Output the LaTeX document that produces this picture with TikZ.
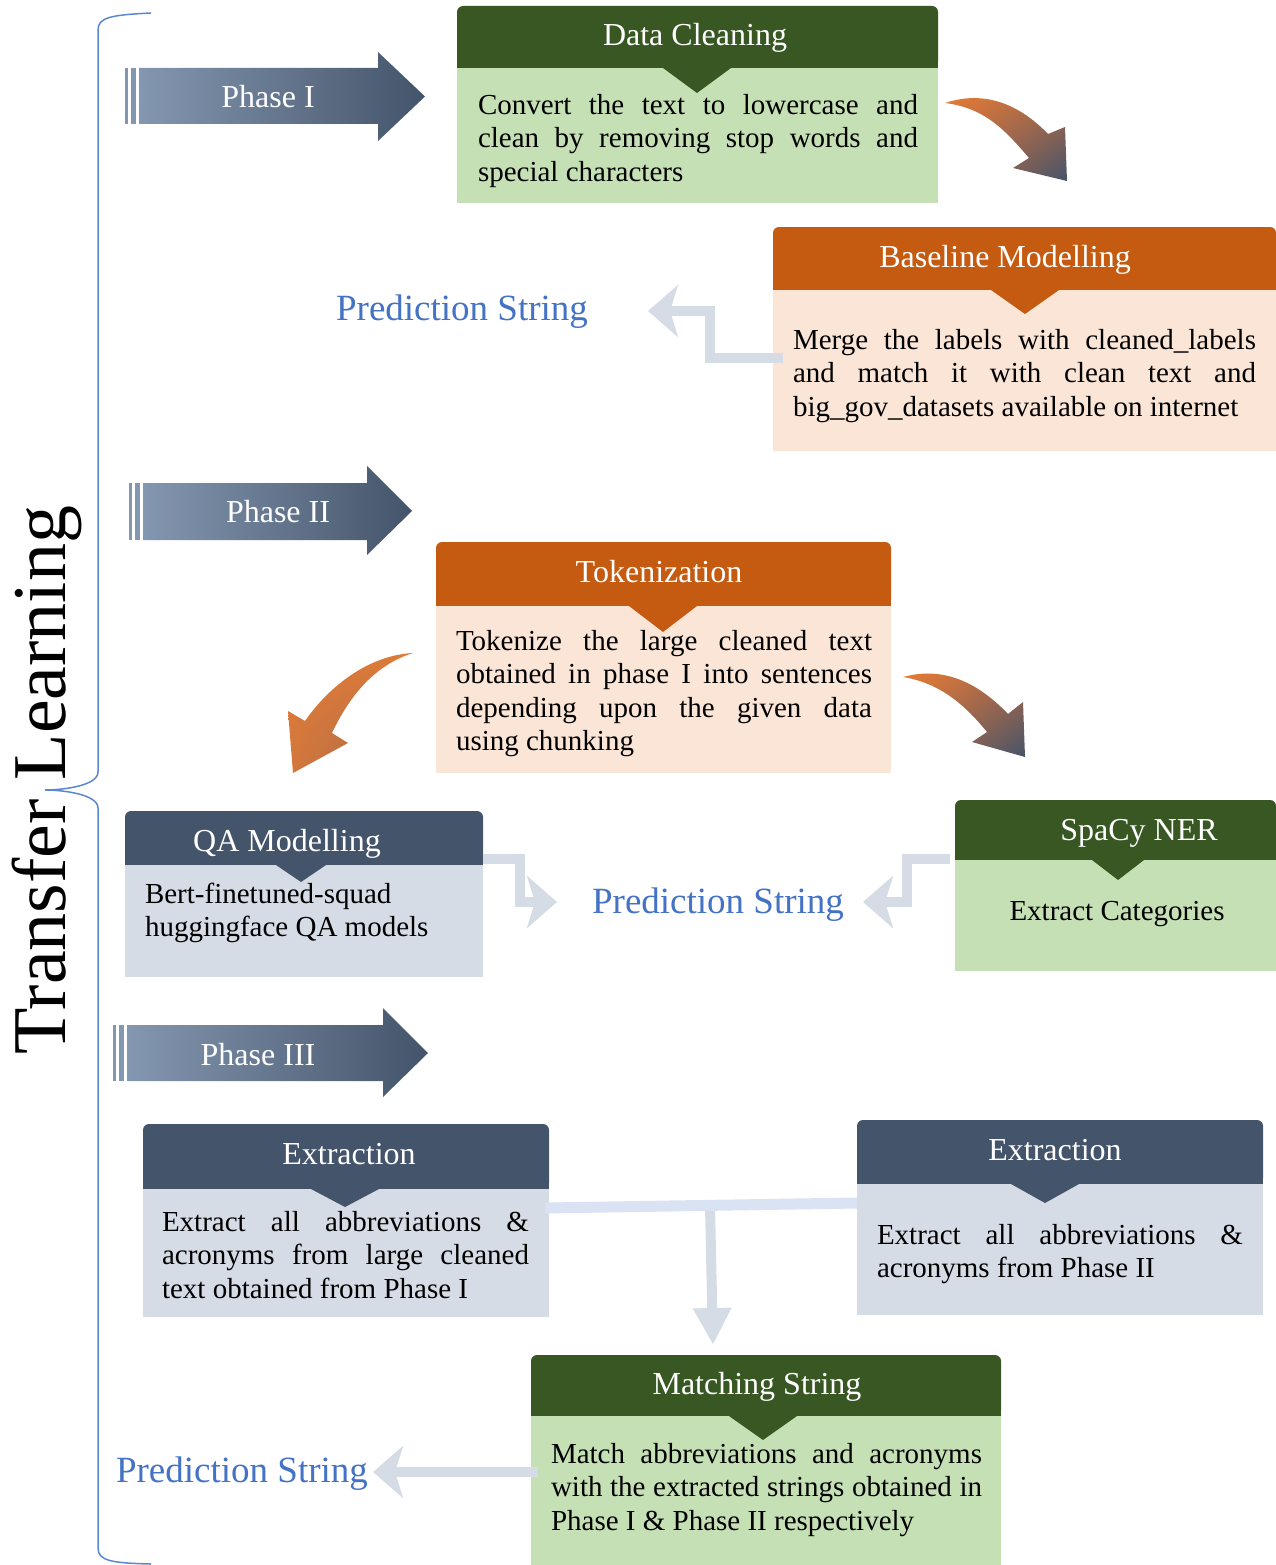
\documentclass[tikz,border=0pt]{standalone}
\usepackage{fontspec}
\setmainfont{Liberation Serif}
\usetikzlibrary{arrows.meta,calc,shadings}
\definecolor{hgreen}{HTML}{385723}
\definecolor{bgreen}{HTML}{C5E0B4}
\definecolor{horange}{HTML}{C55A11}
\definecolor{borange}{HTML}{FBE5D6}
\definecolor{hslate}{HTML}{44546A}
\definecolor{bslate}{HTML}{D6DCE5}
\definecolor{predblue}{HTML}{4472C4}
\definecolor{phlight}{HTML}{8497B0}
\definecolor{arrorange}{HTML}{ED7D31}
\definecolor{arrmix}{HTML}{B06A48}
\definecolor{arrorangeb}{HTML}{DE7B38}
\definecolor{arrbrown}{HTML}{9C6551}
\definecolor{connblue}{HTML}{DAE3F3}
\definecolor{bracecol}{HTML}{5B87D0}
\newcommand\dgbody{\fontsize{29}{33.5}\selectfont}
\newcommand\dgtitle{\fontsize{32}{38}\selectfont}
\newcommand\dgpred{\fontsize{37}{44}\selectfont}
\newcommand\dgbig{\fontsize{76}{90}\selectfont}
\tikzset{
 hdrbox/.style={inner sep=0, outer sep=0, rounded corners=6pt, anchor=north west},
 bodybox/.style={inner sep=0, outer sep=0, anchor=north west},
 bodytext/.style={inner sep=0, outer sep=0, anchor=north west, font=\dgbody, align=justify},
 titletext/.style={inner sep=0, anchor=base, font=\dgtitle, text=white},
 predtext/.style={inner sep=0, anchor=base, font=\dgpred, text=predblue},
 phasetext/.style={inner sep=0, anchor=base, font=\dgtitle, text=white},
 bentarrow/.style={draw=bslate, line width=10pt, line join=miter, -{Stealth[length=30pt,width=52pt,inset=8pt]}},
}
\begin{document}
\tolerance=10000 \hyphenpenalty=10000
\begin{tikzpicture}[x=1pt,y=-1pt]
\useasboundingbox (0,0) rectangle (1276,1565);
% brace and side title
\draw[bracecol, line width=1.5pt] (151,13) .. controls (112,15) and (98,17) .. (98,30) -- (98,772) .. controls (98,786) and (62,790) .. (45,790) .. controls (62,790) and (98,794) .. (98,808) -- (98,1548) .. controls (98,1561) and (112,1563) .. (151,1564);
\node[font=\dgbig, rotate=90, anchor=base, inner sep=0] (tl) at (65,780) {Transfer Learning};

% phase arrows
\fill[phlight] (125,68) rectangle (128,124);
\fill[phlight] (131,68) rectangle (136,124);
\shade[left color=phlight, right color=hslate] (139,68) -- (378,68) -- (378,52) -- (425,96.5) -- (378,141) -- (378,124) -- (139,124) -- cycle;
\node[phasetext] (ph1) at (268,108) {Phase I};

\fill[phlight] (129,483) rectangle (132,540);
\fill[phlight] (135,483) rectangle (140,540);
\shade[left color=phlight, right color=hslate] (143,483) -- (367,483) -- (367,466) -- (412,511) -- (367,555) -- (367,540) -- (143,540) -- cycle;
\node[phasetext] (ph2) at (278,522) {Phase II};

\fill[phlight] (113,1025) rectangle (116,1081);
\fill[phlight] (119,1025) rectangle (124,1081);
\shade[left color=phlight, right color=hslate] (127,1025) -- (383,1025) -- (383,1008) -- (428,1053) -- (383,1097) -- (383,1081) -- (127,1081) -- cycle;
\node[phasetext] (ph3) at (258,1065) {Phase III};

% Data Cleaning
\node[hdrbox, fill=hgreen, minimum width=481, minimum height=62] (dch) at (457,6) {};
\fill[hgreen] ($(dch.south west)+(0,-8)$) rectangle (dch.south east);
\node[bodybox, fill=bgreen, minimum width=481, minimum height=135] (dcb) at (457,68) {};
\fill[hgreen] (663,68) -- (731,68) -- (697,93) -- cycle;
\node[titletext] (dct) at (695,46) {Data Cleaning};
\node[bodytext, text width=440] (dcx) at (478,91) {\strut Convert the text to lowercase and\linebreak clean by removing stop words and\linebreak special characters};

% Baseline Modelling
\node[hdrbox, fill=horange, minimum width=503, minimum height=63] (bmh) at (773,227) {};
\fill[horange] ($(bmh.south west)+(0,-8)$) rectangle (bmh.south east);
\node[bodybox, fill=borange, minimum width=503, minimum height=161] (bmb) at (773,290) {};
\fill[horange] (991,290) -- (1059,290) -- (1025,314) -- cycle;
\node[titletext] (bmt) at (1005,267) {Baseline Modelling};
\node[bodytext, text width=463] (bmx) at (793,326) {\strut Merge the labels with cleaned\_labels\linebreak and match it with clean text and\linebreak big\_gov\_datasets available on internet};

% Tokenization
\node[hdrbox, fill=horange, minimum width=455, minimum height=64] (tkh) at (436,542) {};
\fill[horange] ($(tkh.south west)+(0,-8)$) rectangle (tkh.south east);
\node[bodybox, fill=borange, minimum width=455, minimum height=167] (tkb) at (436,606) {};
\fill[horange] (629,606) -- (697,606) -- (663,632) -- cycle;
\node[titletext] (tkt) at (659,582) {Tokenization};
\node[bodytext, text width=416] (tkx) at (456,627) {\strut Tokenize the large cleaned text\linebreak obtained in phase I into sentences\linebreak depending upon the given data\linebreak using chunking};

% QA Modelling
\node[hdrbox, fill=hslate, minimum width=358, minimum height=54] (qah) at (125,811) {};
\fill[hslate] ($(qah.south west)+(0,-8)$) rectangle (qah.south east);
\node[bodybox, fill=bslate, minimum width=358, minimum height=112] (qab) at (125,865) {};
\fill[hslate] (276,865) -- (326,865) -- (301,882) -- cycle;
\node[titletext] (qat) at (287,851) {QA Modelling};
\node[bodytext, align=left] (qax) at (145,880) {\strut Bert-finetuned-squad\\ huggingface QA models};

% SpaCy NER
\node[hdrbox, fill=hgreen, minimum width=321, minimum height=60] (sph) at (955,800) {};
\fill[hgreen] ($(sph.south west)+(0,-8)$) rectangle (sph.south east);
\node[bodybox, fill=bgreen, minimum width=321, minimum height=111] (spb) at (955,860) {};
\fill[hgreen] (1092,860) -- (1144,860) -- (1118,880) -- cycle;
\node[titletext] (spt) at (1139,840) {SpaCy NER};
\node[inner sep=0, anchor=base, font=\dgbody] (spx) at (1117,920) {Extract Categories};

% Extraction left
\node[hdrbox, fill=hslate, minimum width=406, minimum height=65] (exlh) at (143,1124) {};
\fill[hslate] ($(exlh.south west)+(0,-8)$) rectangle (exlh.south east);
\node[bodybox, fill=bslate, minimum width=406, minimum height=128] (exlb) at (143,1189) {};
\fill[hslate] (311,1189) -- (379,1189) -- (345,1207) -- cycle;
\node[titletext] (exlt) at (349,1164) {Extraction};
\node[bodytext, text width=367] (exlx) at (162,1208) {\strut Extract all abbreviations \&\linebreak acronyms from large cleaned\linebreak text obtained from Phase I};

% Extraction right
\node[hdrbox, fill=hslate, minimum width=406, minimum height=64] (exrh) at (857,1120) {};
\fill[hslate] ($(exrh.south west)+(0,-8)$) rectangle (exrh.south east);
\node[bodybox, fill=bslate, minimum width=406, minimum height=131] (exrb) at (857,1184) {};
\fill[hslate] (1011,1184) -- (1079,1184) -- (1045,1203) -- cycle;
\node[titletext] (exrt) at (1055,1160) {Extraction};
\node[bodytext, text width=366] (exrx) at (877,1221) {\strut Extract all abbreviations \&\linebreak acronyms from Phase II};

% Matching String
\node[hdrbox, fill=hgreen, minimum width=470, minimum height=61] (msh) at (531,1355) {};
\fill[hgreen] ($(msh.south west)+(0,-8)$) rectangle (msh.south east);
\node[bodybox, fill=bgreen, minimum width=470, minimum height=149] (msb) at (531,1416) {};
\fill[hgreen] (729,1416) -- (797,1416) -- (763,1440) -- cycle;
\node[titletext] (mst) at (757,1394) {Matching String};
\node[bodytext, text width=431] (msx) at (551,1440) {\strut Match abbreviations and acronyms\linebreak with the extracted strings obtained in\linebreak Phase I \& Phase II respectively};

% Prediction strings
\node[predtext] (pr1) at (462,320) {Prediction String};
\node[predtext] (pr2) at (718,913) {Prediction String};
\node[predtext] (pr3) at (242,1482) {Prediction String};

% curved arrows
\shade[upper left=arrorange, upper right=arrmix, lower left=arrmix, lower right=hslate]
  (945,103) .. controls (990,88) and (1025,110) .. (1048,134) -- (1065,127) -- (1067,181) -- (1013,168) -- (1029,158) .. controls (1005,130) and (985,108) .. (945,103) -- cycle;
\shade[upper left=arrorangeb, upper right=arrorangeb, lower left=arrorangeb!85!arrbrown, lower right=arrbrown]
  (413,653) .. controls (370,655) and (330,685) .. (305,721) -- (288,711) -- (293,773) -- (348,743) -- (332,733) .. controls (350,695) and (375,665) .. (413,653) -- cycle;
\shade[upper left=arrorange, upper right=arrmix, lower left=arrmix, lower right=hslate]
  (903,677) .. controls (950,664) and (985,690) .. (1008,714) -- (1023,702) -- (1025,757) -- (972,742) -- (987,732) .. controls (965,705) and (940,683) .. (903,677) -- cycle;

% bent connectors
\coordinate (t1) at (648,311);
\draw[bentarrow] ($(bmb.north west)+(10,68)$) -- (710,358) -- (710,311) -- (t1);
\coordinate (t2) at (557,902);
\draw[bentarrow] ($(qah.south east)+(0,-6)$) -- (520,859) -- (520,902) -- (t2);
\coordinate (t3) at (863,902);
\draw[bentarrow] ($(sph.south west)+(-5,-1)$) -- (907,859) -- (907,902) -- (t3);
\coordinate (t4) at (373,1472);
\draw[bentarrow] ($(msb.north west)+(7,56)$) -- (t4);

% extraction merge
\draw[bslate, line width=10pt, -{Triangle[length=37pt,width=36pt]}] (710,1206) -- ($(msh.north west)+(182,-10)$) coordinate (t5);
\draw[connblue, line width=11pt] ($(exlb.north east)+(-4,19)$) -- ($(exrb.north west)+(0,19)$);
\end{tikzpicture}
\end{document}
